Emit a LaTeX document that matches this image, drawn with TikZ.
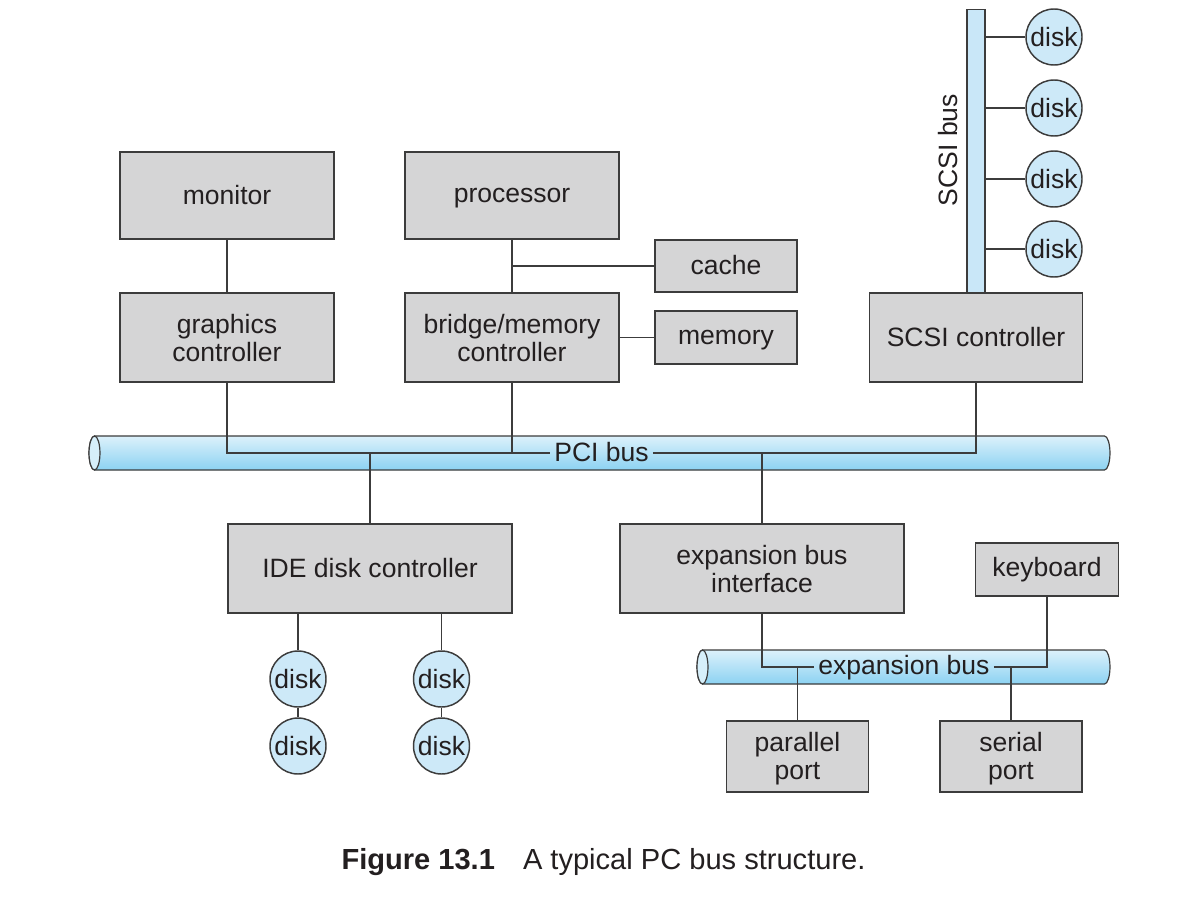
\documentclass[tikz,border=0pt]{standalone}
\usepackage{fontspec}
\setmainfont{Liberation Sans}
\usepackage{tikz}
\usetikzlibrary{positioning}
\definecolor{boxgray}{HTML}{D5D5D6}
\definecolor{linegray}{HTML}{3C3C3C}
\definecolor{textdark}{HTML}{231F20}
\definecolor{diskblue}{HTML}{CDE9F8}
\definecolor{bustop}{HTML}{DCF1FB}
\definecolor{busbottom}{HTML}{8CD2F2}
\definecolor{buscap}{HTML}{D6EFFA}
\definecolor{scsiblue}{HTML}{C9E7F8}
\newcommand{\boxfont}{\fontsize{19.9}{21}\selectfont}
\newcommand{\bstrut}{\rule[-1.8pt]{0pt}{16.5pt}}
\newcommand{\tallstrut}{\rule[-1.8pt]{0pt}{40pt}}
\tikzstyle{block} = [rectangle, draw=linegray, fill=boxgray, line width=1.1pt,
                 align=center, text=textdark, font=\boxfont,
                 execute at begin node=\bstrut]
\tikzstyle{twoline} = [block, execute at begin node=\tallstrut]
\tikzstyle{disk} = [circle, draw=linegray, fill=diskblue, line width=1.1pt,
                 minimum size=42pt, inner sep=0pt, text=textdark, font=\boxfont]
\tikzstyle{wire} = [draw=linegray, line width=1.2pt]
\tikzstyle{buslabel} = [inner xsep=3pt, inner ysep=0pt, text=textdark, font=\boxfont,
                 execute at begin node=\bstrut]
% cylinder shaped bus: left x, right x, centre y
\newcommand{\busbar}[3]{%
  \shade[top color=bustop, bottom color=busbottom, draw=linegray, line width=0.9pt]
    (#1,#3+17) -- (#2-5.5,#3+17)
    arc[start angle=90, end angle=-90, x radius=4.1pt, y radius=12.75pt]
    -- (#1,#3-17)
    arc[start angle=270, end angle=90, x radius=4.1pt, y radius=12.75pt] -- cycle;
  \draw[fill=buscap, draw=linegray, line width=0.9pt]
    (#1,#3) ellipse [x radius=4.1pt, y radius=12.75pt];
}

\begin{document}
\begin{tikzpicture}[x=0.75pt, y=0.75pt]
\useasboundingbox (0,0) rectangle (1200,-903);

% buses
\busbar{94.5}{1110}{-453}
\busbar{702.5}{1110}{-667}
\node [rectangle, draw=linegray, fill=scsiblue, line width=0.9pt,
       minimum width=13.5pt, minimum height=213pt, inner sep=0pt]
       at (976,-151.5) (scsibus) {};
\node [rotate=90, text=textdark, font=\boxfont] at (948,-150) (scsilabel) {SCSI bus};

% boxes
\node [block, minimum width=160.5pt, minimum height=65.25pt] at (227,-195.5) (monitor) {monitor};
\node [block, minimum width=160.5pt, minimum height=65.25pt] at (512,-195.5) (processor) {processor};
\node [block, minimum width=106.5pt, minimum height=39pt] at (726,-266) (cache) {cache};
\node [block, minimum width=106.5pt, minimum height=39.75pt] at (726,-337.5) (memory) {memory};
\node [twoline, minimum width=160.5pt, minimum height=66.75pt] at (227,-337.5) (graphics) {graphics\\controller};
\node [twoline, minimum width=160.5pt, minimum height=66.75pt] at (512,-337.5) (bridge) {bridge/memory\\controller};
\node [block, minimum width=159.75pt, minimum height=66.75pt] at (976,-337.5) (scsi) {SCSI controller};
\node [block, minimum width=213pt, minimum height=66.75pt] at (370,-568.5) (ide) {IDE disk controller};
\node [twoline, minimum width=213pt, minimum height=66.75pt] at (762,-568.5) (expif) {expansion bus\\interface};
\node [block, minimum width=107.25pt, minimum height=39.75pt] at (1047,-569.5) (keyboard) {keyboard};
\node [twoline, minimum width=106.5pt, minimum height=53.25pt] at (797.5,-756.5) (parallel) {parallel\\port};
\node [twoline, minimum width=106.5pt, minimum height=53.25pt] at (1011,-756.5) (serial) {serial\\port};

% disks
\foreach \y [count=\i] in {37,108,179,249}
	\node [disk] at (1054,-\y) (sd\i) {disk};
\node [disk] at (298,-679) (ida) {disk};
\node [disk] at (298,-746) (idb) {disk};
\node [disk] at (441.5,-679) (idc) {disk};
\node [disk] at (441.5,-746) (idd) {disk};

% bus labels
\node [buslabel] at (601.5,-453) (pcilabel) {PCI bus};
\node [buslabel] at (904,-667) (explabel) {expansion bus};

% connections
\path [wire] (monitor.south) -- (graphics.north);
\path [wire] (processor.south) -- (bridge.north);
\path [wire] (cache.west) -- (cache.west -| processor.south);
\path [wire] (bridge.east) -- (memory.west);
\path [wire] (graphics.south) |- (pcilabel.west);
\path [wire] (bridge.south) -- (bridge.south |- pcilabel.west);
\path [wire] (pcilabel.east) -| (scsi.south);
\path [wire] (ide.north) -- (ide.north |- pcilabel.west);
\path [wire] (expif.north) -- (expif.north |- pcilabel.east);
\foreach \i in {1,...,4}
	\path [wire] (sd\i.west) -- (sd\i.west -| scsibus.east);
\path [wire] (ida.north) -- (ida.north |- ide.south);
\path [wire] (idc.north) -- (idc.north |- ide.south);
\path [wire] (ida.south) -- (idb.north);
\path [wire] (idc.south) -- (idd.north);
\path [wire] (expif.south) |- (explabel.west);
\path [wire] (explabel.east) -| (keyboard.south);
\path [wire] (parallel.north) -- (parallel.north |- explabel.west);
\path [wire] (serial.north) -- (serial.north |- explabel.east);

% caption
\node [text=textdark, font=\fontsize{21.8}{24}\selectfont] at (603.5,-862) (caption)
	{\textbf{Figure 13.1}\hspace{21pt}A typical PC bus structure.};

\end{tikzpicture}
\end{document}
